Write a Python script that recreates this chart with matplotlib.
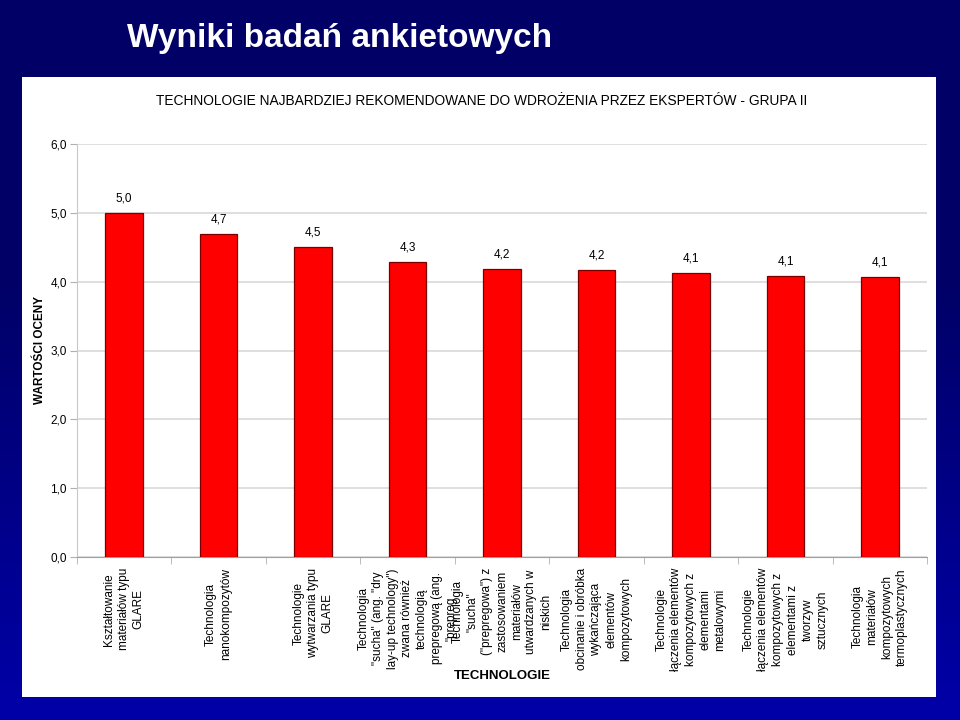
import numpy as np
import matplotlib.pyplot as plt
from matplotlib.patches import Rectangle
from matplotlib.colors import LinearSegmentedColormap
from matplotlib.ticker import FuncFormatter, FixedLocator

# data
categories = [
    'Kształtowanie\nmateriałów typu\nGLARE',
    'Technologia\nnanokompozytów',
    'Technologie\nwytwarzania typu\nGLARE',
    'Technologia\n"sucha" (ang. "dry\nlay-up technology")\nzwana również\ntechnologią\nprepregową (ang.\n"prepreg',
    'Technologia\n"sucha"\n("prepregowa") z\nzastosowaniem\nmateriałów\nutwardzanych w\nniskich',
    'Technologia\nobcinanie i obróbka\nwykańczająca\nelementów\nkompozytowych',
    'Technologie\nłączenia elementów\nkompozytowych z\nelementami\nmetalowymi',
    'Technologie\nłączenia elementów\nkompozytowych z\nelementami z\ntworzyw\nsztucznych',
    'Technologia\nmateriałów\nkompozytowych\ntermoplastycznych',
]
values = [5.0, 4.69, 4.5, 4.29, 4.19, 4.17, 4.13, 4.08, 4.07]
y_ticks = [0, 1, 2, 3, 4, 5, 6]

plt.rcParams['font.family'] = ['Liberation Sans', 'DejaVu Sans']

fig = plt.figure(figsize=(9.6, 7.2), dpi=100)

# background gradient + white panel
bg = fig.add_axes([0, 0, 1, 1], zorder=-10)
grad = np.linspace(0, 1, 256).reshape(-1, 1)
cmap = LinearSegmentedColormap.from_list('bg', [(0, '#000066'), (0.4, '#000068'), (1, '#0000a8')])
bg.imshow(grad, aspect='auto', cmap=cmap, extent=[0, 1, 0, 1], origin='upper')
bg.set_xlim(0, 1)
bg.set_ylim(0, 1)
bg.axis('off')
bg.add_patch(Rectangle((22 / 960, 1 - 697 / 720), (936 - 22) / 960, (697 - 77) / 720,
                       facecolor='white', edgecolor='none'))

fig.text(127 / 960, 1 - 39 / 720, 'Wyniki badań ankietowych', color='white',
         fontsize=24, fontweight='bold', va='center', ha='left')

ax = fig.add_axes([76.75 / 960, 1 - 557 / 720, (927.25 - 76.75) / 960, (557 - 144) / 720])
ax.set_facecolor('none')
x = np.arange(len(values))
ax.bar(x, values, width=0.4, color='#ff0000', edgecolor='#7a0000', linewidth=0.9, zorder=3)
for xi, v in zip(x, values):
    ax.text(xi, v + 0.12, f'{v:.1f}'.replace('.', ','), ha='center', va='bottom', fontsize=8.5)

ax.set_xlim(-0.5, len(values) - 0.5)
ax.set_ylim(0, 6)
ax.set_yticks(y_ticks)
ax.yaxis.set_major_formatter(FuncFormatter(lambda v, p: f'{v:.1f}'.replace('.', ',')))
ax.yaxis.grid(True, color='#d9d9d9', linewidth=1.2, zorder=0)
ax.set_axisbelow(True)
ax.tick_params(axis='y', labelsize=8.5, color='#b0b0b0', length=5, pad=2)

ax.set_xticks(x)
ax.set_xticklabels(categories, rotation=90, fontsize=8.5, multialignment='center', linespacing=1.3)
ax.tick_params(axis='x', which='major', length=0, pad=8)
ax.xaxis.set_minor_locator(FixedLocator(np.arange(-0.5, len(values), 1.0)))
ax.tick_params(axis='x', which='minor', length=5, color='#b0b0b0')

for s in ['top', 'right']:
    ax.spines[s].set_visible(False)
ax.spines['left'].set_color('#c8c8c8')
ax.spines['bottom'].set_color('#a0a0a0')

ax.set_ylabel('WARTOŚCI OCENY', fontsize=8.5, fontweight='bold')
ax.yaxis.set_label_coords(-(76.75 - 46) / 850.5, 0.5)
fig.text(502 / 960, 1 - 676 / 720, 'TECHNOLOGIE', fontsize=9.5, fontweight='bold', ha='center', va='center')
fig.text(482 / 960, 1 - 101 / 720,
         'TECHNOLOGIE NAJBARDZIEJ REKOMENDOWANE DO WDROŻENIA PRZEZ EKSPERTÓW - GRUPA II',
         fontsize=9.9, ha='center', va='center')

fig.savefig('out.png', dpi=100)
